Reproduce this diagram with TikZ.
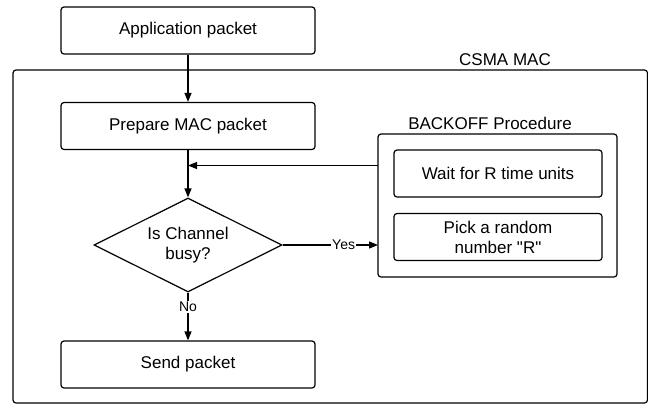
\documentclass[tikz,border=0pt]{standalone}
\usepackage{fontspec}
\setmainfont{Liberation Sans}
\usetikzlibrary{shapes.geometric,arrows.meta}
\begin{document}
\begin{tikzpicture}[x=1pt,y=-1pt,
  txt/.style={font=\fontsize{17}{20}\selectfont},
  box/.style={draw,line width=1.2pt,rounded corners=3pt,minimum width=254pt,minimum height=47pt,txt,align=center,inner sep=0pt},
  subbox/.style={draw,line width=1.2pt,rounded corners=3pt,minimum width=208pt,minimum height=47pt,txt,align=center,inner sep=0pt},
  frame/.style={draw,line width=1.2pt,rounded corners=3pt},
  decision/.style={draw,line width=1.2pt,diamond,aspect=2,minimum width=188pt,minimum height=94pt,inner sep=0pt,txt,align=center},
  flow/.style={line width=1.2pt,-{Triangle[length=9pt,width=7pt]}},
  lbl/.style={font=\fontsize{14}{16}\selectfont,fill=white,inner sep=1pt},
  title/.style={txt,inner sep=0pt}]
\useasboundingbox (0,0) rectangle (648,405);

% CSMA MAC container
\draw[frame] (13,70) rectangle (647.5,403);
\node[title] (csma) at (505,60) {CSMA MAC};

% main flow
\node[box] (app) at (188,30.5) {Application packet};
\node[box] (prep) at (188,126) {Prepare MAC packet};
\node[decision] (busy) at (188,245) {Is Channel\\busy?};
\node[box] (send) at (188,364.5) {Send packet};

% backoff procedure
\draw[frame] (378,134) rectangle (617,277);
\coordinate (boL) at (378,165.5);
\coordinate (boY) at (378,245);
\node[title] (bot) at (490,123) {BACKOFF Procedure};
\node[subbox] (wait) at (498,173.5) {Wait for R time units};
\node[subbox] (pick) at (498,237) {Pick a random\\number \textquotedbl R\textquotedbl};

% connectors
\coordinate (join) at (188,165.5);
\draw[flow] (app) -- (prep);
\draw[line width=1.2pt] (prep) -- (join);
\draw[flow] (join) -- (busy.north);
\draw[flow] (boL) -- (join);
\draw[flow] (busy.east) -- node[lbl,pos=0.64] {Yes} (boY);
\draw[flow] (busy.south) -- node[lbl,pos=0.3] {No} (send.north);
\end{tikzpicture}
\end{document}
